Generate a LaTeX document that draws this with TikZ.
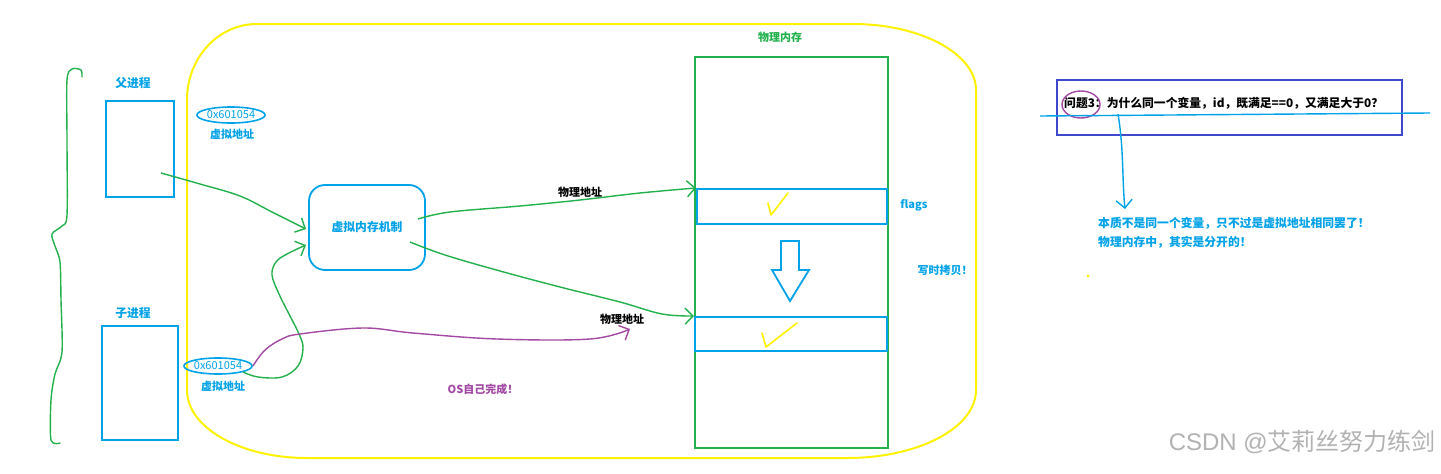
\documentclass[tikz,border=0pt]{standalone}
\usepackage{fontspec}
\setmainfont{Noto Sans CJK SC}
\newfontfamily\wmlatin{Liberation Sans}
\usetikzlibrary{arrows.meta,shapes.geometric}
\definecolor{cblue}{HTML}{00A2E8}
\definecolor{cgreen}{HTML}{22B14C}
\definecolor{cyellow}{HTML}{FFF200}
\definecolor{cpurple}{HTML}{A349A4}
\definecolor{cindigo}{HTML}{3F48CC}
\begin{document}
\begin{tikzpicture}[x=1pt,y=-1pt,
  lbl/.style={font=\fontsize{11}{13}\selectfont\bfseries, inner sep=0pt},
  biglbl/.style={font=\fontsize{11.8}{14}\selectfont\bfseries, inner sep=0pt},
  procbox/.style={draw=cblue, line width=2pt, inner sep=0pt},
  blkbox/.style={draw=cblue, line width=2pt, inner sep=0pt},
  addr/.style={draw=cblue, ellipse, line width=1.6pt, inner sep=0pt, text=cblue, font=\fontsize{11}{13}\selectfont},
  barb/.style={-{Straight Barb[length=8pt,width=16pt]}},
  garrow/.style={cgreen, line width=1.4pt, barb},
  parrow/.style={cpurple, line width=1.4pt, barb},
  barrow/.style={cblue, line width=1.4pt, barb},
  tick/.style={cyellow, line width=1.6pt, line cap=round, line join=round}]
\useasboundingbox (0,0) rectangle (1441,474);
\fill[white] (0,0) rectangle (1441,474);

% yellow rounded region
\draw[cyellow, line width=2pt]
  (257,24) -- (853,24) .. controls (921,24) and (976,54) .. (976,90)
  -- (976,390) .. controls (976,428) and (918,458) .. (847,458)
  -- (307,458) .. controls (241,458) and (187,428) .. (187,390)
  -- (187,100) .. controls (187,58) and (218,24) .. (257,24) -- cycle;

% left brace
\draw[cgreen, line width=1.4pt, line cap=round, line join=round]
  plot[smooth, tension=0.5] coordinates {(82,77) (81,70) (72,69) (67,80) (67,140) (67,215) (62,226) (52,234) (55,246) (60,262) (61,300) (62,352) (55,374) (51,400) (51,440) (60,443)};

% processes
\node[biglbl, text=cblue] (parlbl) at (133,83) {父进程};
\node[procbox, minimum width=68pt, minimum height=96pt] (par) at (140,149) {};
\node[biglbl, text=cblue] (chilbl) at (133,313) {子进程};
\node[procbox, minimum width=76pt, minimum height=114pt] (chi) at (140,383) {};

% virtual addresses
\node[addr, minimum width=62pt, minimum height=16pt] (va1) at (231,115) {0x601054};
\node[lbl, text=cblue] (va1lbl) at (232,134) {虚拟地址};
\node[addr, minimum width=60pt, minimum height=16pt] (va2) at (218,366) {0x601054};
\node[lbl, text=cblue] (va2lbl) at (223,386) {虚拟地址};

% virtual memory mechanism
\node[draw=cblue, line width=1.8pt, rounded corners=16pt, minimum width=116pt, minimum height=85pt, biglbl, text=cblue] (vmm) at (367,227.5) {虚拟内存机制};

% physical memory
\node[lbl, text=cgreen] (memlbl) at (780,37) {物理内存};
\node[draw=cgreen, line width=2pt, minimum width=193pt, minimum height=391pt, inner sep=0pt] (mem) at (791.5,252.5) {};
\node[blkbox, minimum width=190pt, minimum height=35pt] (blk1) at (792,206.5) {};
\node[blkbox, minimum width=192pt, minimum height=34pt] (blk2) at (791,334) {};
\draw[tick] (768,203) -- (771,215) -- (788,193);
\draw[tick] (762,333) -- (766,347) -- (797,323);
\draw[cblue, line width=1.8pt, line join=miter] (781,241) -- (799,241) -- (799,270) -- (809,270) -- (790,301) -- (772,270) -- (781,270) -- cycle;
\node[lbl, text=cblue] (flags) at (914,205) {flags};
\node[lbl, text=cblue] (cow) at (945,270) {写时拷贝！};

% connectors
\coordinate (parstart) at (161,173);
\draw[garrow] plot[smooth, tension=0.6] coordinates {(parstart) (200,184) (240,196) (272,212) (306,229)};
\coordinate (va2start) at (243,372);
\draw[garrow] plot[smooth, tension=0.6] coordinates {(va2start) (258,377) (282,377) (298,366) (303,348) (299,334) (289,314) (279,294) (272,275) (276,262) (287,254) (306,245)};

\coordinate (v1start) at (418,219);
\draw[garrow] plot[smooth, tension=0.6] coordinates {(v1start) (450,212) (520,206) (580,200) (640,193) (blk1.north west)};
\node[lbl] (pa1) at (580,192) {物理地址};

\coordinate (v2start) at (410,242);
\draw[garrow] plot[smooth, tension=0.6] coordinates {(v2start) (445,255) (500,271) (560,287) (620,302) (662,314) (blk2.north west)};

\coordinate (patip) at (630,329);
\draw[parrow] plot[smooth, tension=0.6] coordinates {(va2.east) (265,350) (282,339) (300,334) (363,328) (413,333) (497,339) (590,339) (patip)};
\node[lbl] (pa2) at (622,319) {物理地址};
\node[lbl, text=cpurple] (os) at (483,389) {OS自己完成！};

% question box
\node[draw=cindigo, line width=1.8pt, minimum width=345pt, minimum height=55pt, inner sep=0pt] (qbox) at (1229.5,107.5) {};
\node[biglbl, anchor=west] (q) at (1064,103) {问题3：为什么同一个变量，id，既满足==0，又满足大于0？};
\node[draw=cpurple, ellipse, line width=1.4pt, minimum width=38pt, minimum height=27pt, inner sep=0pt] (qmark) at (1081,104.5) {};
\coordinate (hl1) at (1040,116);
\coordinate (hl2) at (1430,113);
\draw[cblue, line width=1.4pt] (hl1) -- (hl2);
\coordinate (astart) at (1118,114);
\node[biglbl, anchor=west, text=cblue] (ans1) at (1098,223) {本质不是同一个变量，只不过是虚拟地址相同罢了！};
\node[biglbl, anchor=west, text=cblue] (ans2) at (1098,242) {物理内存中，其实是分开的！};
\draw[barrow] (astart) .. controls (1124,150) and (1122,180) .. (1125,209);
\fill[cyellow] (1088,276) circle (1.5pt);

% watermark
\node[text=black!30, font=\fontsize{24}{26}\selectfont, anchor=east, inner sep=0pt] (wm) at (1436,442) {{\wmlatin CSDN @}艾莉丝努力练剑};
\end{tikzpicture}
\end{document}
